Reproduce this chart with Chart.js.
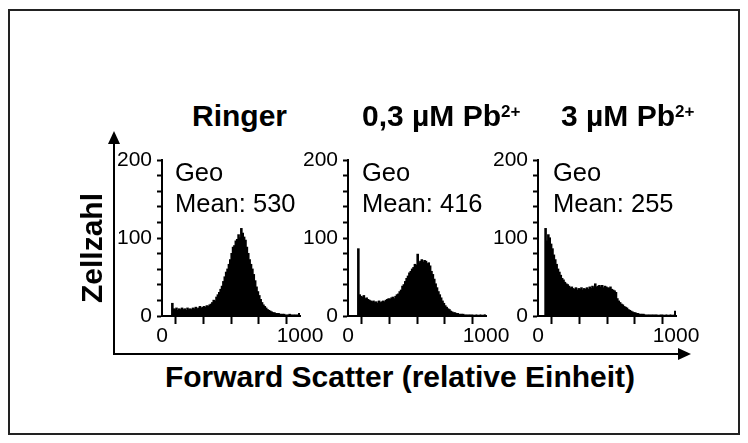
<!DOCTYPE html>
<html>
<head>
<meta charset="utf-8">
<script src="https://cdn.jsdelivr.net/npm/chart.js@4.4.1/dist/chart.umd.min.js"></script>
<style>
html,body{margin:0;padding:0;background:#fff;}
#stage{position:relative;width:748px;height:443px;overflow:hidden;font-family:"Liberation Sans",Arial,Helvetica,sans-serif;color:#000;}
canvas.panel{position:absolute;}
.title{position:absolute;font-weight:bold;font-size:30px;line-height:1;white-space:nowrap;}
.title .sup{font-size:17px;position:relative;top:-9px;}
.note{position:absolute;font-size:25.5px;line-height:1;white-space:nowrap;}
.axtitle{position:absolute;font-weight:bold;font-size:30px;line-height:1;white-space:nowrap;}
</style>
</head>
<body>
<div id="stage">
<svg width="748" height="443" style="position:absolute;left:0;top:0">
  <rect x="9" y="10" width="730" height="424" fill="none" stroke="#222" stroke-width="2"/>
  <line x1="114" y1="354" x2="114" y2="142" stroke="#000" stroke-width="2"/>
  <polygon points="114,131 108,144 120,144" fill="#000"/>
  <line x1="113" y1="354" x2="680" y2="354" stroke="#000" stroke-width="2"/>
  <polygon points="691,354 678,348 678,360" fill="#000"/>
</svg>
</div>
<script>
// ---- data ----
const BIN_WIDTH = 10; // Forward-scatter channel width (relative units)
const panelTitles = ["Ringer", "0,3 \u00B5M Pb", "3 \u00B5M Pb"];
const panelTitleSup = ["", "2+", "2+"];
const geoMeans = [530, 416, 255];
const xTickLabels = [0, 1000];
const yTickLabels = [0, 100, 200];
const xAxisTitle = "Forward Scatter (relative Einheit)";
const yAxisTitle = "Zellzahl";

const countsRinger = [
  0,0,0,0,0,0,0,16,9,8,
  10,7,9,8,10,8,9,7,10,8,
  9,8,10,9,11,9,10,12,10,11,
  12,11,13,12,14,15,17,20,19,24,
  27,30,34,38,44,50,56,60,66,72,
  80,88,90,96,98,104,100,112,106,101,
  97,88,80,72,66,60,53,45,37,31,
  26,21,17,14,12,10,8,7,6,5,
  4,4,3,3,3,2,2,2,2,1,
  1,1,2,1,1,1,1,1,1,3
];
const countsPb03 = [
  0,0,0,0,0,0,0,86,27,25,
  24,26,22,23,21,20,19,18,19,17,
  18,16,19,17,18,19,18,20,21,22,
  21,23,24,22,25,27,28,31,33,38,
  40,44,48,51,55,57,60,62,66,65,
  79,68,70,72,69,71,70,67,68,64,
  57,53,47,41,36,31,27,23,19,16,
  13,11,9,8,6,5,4,4,3,3,
  2,2,2,2,1,1,1,1,1,1,
  1,0,1,1,0,1,1,0,1,1
];
const countsPb3 = [
  0,0,0,0,0,112,96,104,100,92,
  86,78,72,66,60,56,52,48,46,43,
  41,40,38,36,37,35,34,36,33,35,
  34,36,33,35,34,36,34,37,35,38,
  36,41,37,38,39,37,39,36,38,37,
  36,35,37,34,33,32,30,22,19,17,
  15,14,12,11,10,8,7,6,5,4,
  4,3,3,2,2,2,2,1,1,1,
  1,1,1,1,1,1,1,0,1,1,
  1,0,1,1,0,1,1,0,1,6
];
const panelCounts = [countsRinger, countsPb03, countsPb3];

// ---- layout (positions/sizes only) ----
const FONT = "'Liberation Sans', Arial, Helvetica, sans-serif";
const axisLeft = [162, 348, 538];   // pixel of x=0 in each panel
const plotW = 138, plotH = 156, plotTop = 160;
const YW = 60, XH = 40, PAD_T = 20, PAD_R = 32;
const titleLeft = [192, 362, 561];
const noteLeft = [175, 362, 553];

const stage = document.getElementById('stage');

function addDiv(cls, html, css) {
  const d = document.createElement('div');
  d.className = cls;
  d.innerHTML = html;
  Object.assign(d.style, css);
  stage.appendChild(d);
  return d;
}

panelCounts.forEach((counts, p) => {
  const cv = document.createElement('canvas');
  cv.className = 'panel';
  const w = YW + plotW + PAD_R, h = PAD_T + plotH + XH;
  cv.width = w; cv.height = h;
  cv.style.left = (axisLeft[p] - YW) + 'px';
  cv.style.top = (plotTop - PAD_T) + 'px';
  cv.style.width = w + 'px'; cv.style.height = h + 'px';
  stage.appendChild(cv);

  new Chart(cv.getContext('2d'), {
    type: 'bar',
    data: {
      datasets: [{
        data: counts.map((v, i) => ({ x: i * BIN_WIDTH + BIN_WIDTH / 2, y: v })),
        backgroundColor: '#000',
        borderWidth: 0,
        barPercentage: 1,
        categoryPercentage: 1,
        inflateAmount: 0.6,
        grouped: false
      }]
    },
    options: {
      responsive: false,
      animation: false,
      devicePixelRatio: 1,
      layout: { padding: { top: PAD_T, right: PAD_R, left: 0, bottom: 0 } },
      plugins: { legend: { display: false }, tooltip: { enabled: false }, title: { display: false } },
      scales: {
        x: {
          type: 'linear', min: 0, max: 1000, offset: false,
          afterFit(s) { s.height = XH; },
          ticks: {
            stepSize: 200, autoSkip: false, maxRotation: 0, minRotation: 0,
            color: '#000', font: { family: FONT, size: 21 }, padding: 0,
            callback: (v) => xTickLabels.includes(v) ? String(v) : ''
          },
          grid: { drawOnChartArea: false, drawTicks: true, tickLength: 8, tickWidth: 2, tickColor: '#000' },
          border: { display: true, color: '#000', width: 2 }
        },
        y: {
          type: 'linear', min: 0, max: 200,
          afterFit(s) { s.width = YW; },
          ticks: {
            stepSize: 20, autoSkip: false,
            color: '#000', font: { family: FONT, size: 21 }, padding: 5,
            callback: (v) => yTickLabels.includes(v) ? String(v) : ''
          },
          grid: { drawOnChartArea: false, drawTicks: true, tickLength: 5, tickWidth: 2, tickColor: '#000' },
          border: { display: true, color: '#000', width: 2 }
        }
      }
    }
  });

  // panel title (baseline ~126)
  const sup = panelTitleSup[p] ? '<span class="sup">' + panelTitleSup[p] + '</span>' : '';
  addDiv('title', panelTitles[p] + sup, { left: titleLeft[p] + 'px', top: (126 - 25.4) + 'px' });
  // annotation
  addDiv('note', 'Geo', { left: noteLeft[p] + 'px', top: (182 - 21.6) + 'px' });
  addDiv('note', 'Mean: ' + geoMeans[p], { left: noteLeft[p] + 'px', top: (213 - 21.6) + 'px' });
});

// axis titles
addDiv('axtitle', xAxisTitle, { left: '400px', top: (387 - 25.4) + 'px', transform: 'translateX(-50%)' });
addDiv('axtitle', yAxisTitle, { left: '92px', top: '248px', transform: 'translate(-50%,-50%) rotate(-90deg)' });
</script>
</body>
</html>
